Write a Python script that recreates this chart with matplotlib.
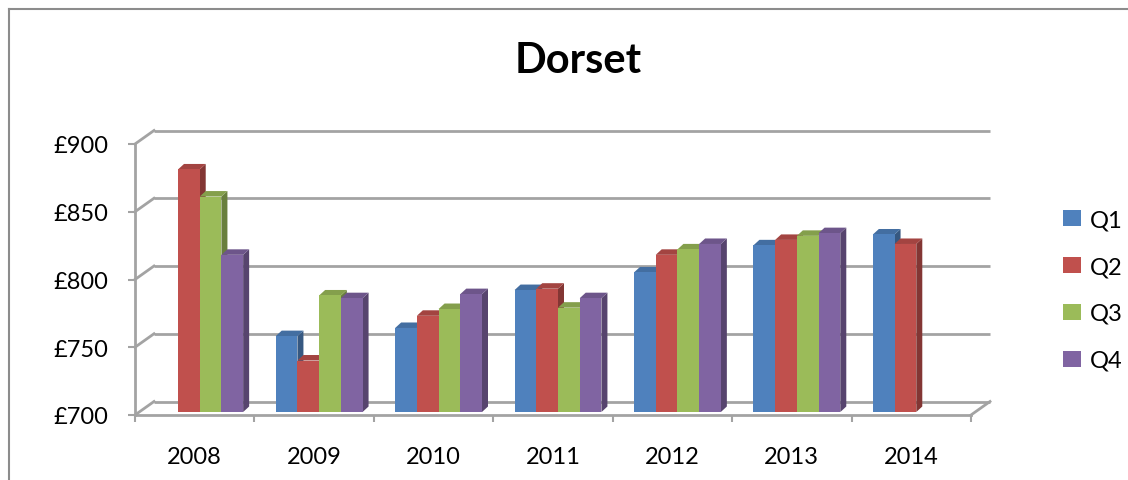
import numpy as np
import matplotlib
matplotlib.use("Agg")
import matplotlib.pyplot as plt
from matplotlib.patches import Polygon, Patch
import matplotlib.colors as mcolors

# --- Données ---
years = ["2008", "2009", "2010", "2011", "2012", "2013", "2014"]
q1 = [np.nan, 756, 762, 790, 803, 823, 831]
q2 = [879, 738, 771, 791, 816, 827, 824]
q3 = [859, 786, 776, 777, 820, 830, np.nan]
q4 = [816, 784, 787, 784, 824, 832, np.nan]
series = ["Q1", "Q2", "Q3", "Q4"]
colors = ["#4F81BD", "#C0504D", "#9BBB59", "#8064A2"]
yticks = [700, 750, 800, 850, 900]

plt.rcParams["font.family"] = ["Lato", "DejaVu Sans"]

W, H = 1128, 481
fig = plt.figure(figsize=(W / 100, H / 100), dpi=100)

# plan avant de l'axe (pixels) -> coordonnées figure
left_px, right_px, y700_px, y900_px = 135, 971, 416, 145
ax = fig.add_axes([left_px / W, 1 - y700_px / H,
                   (right_px - left_px) / W, (y700_px - y900_px) / H])
n = len(years)
ax.set_xlim(-0.5, n - 0.5)
ax.set_ylim(700, 900)

# pixels -> unités de données
sx = (right_px - left_px) / n
sy = (y700_px - y900_px) / 200.0
def off(px, py):
    return px / sx, py / sy

grid_col = "#a3a3a3"
wall_dx, wall_dy = off(19, 13.5)

# grille du mur du fond + diagonales du mur gauche
for v in yticks:
    ax.plot([-0.5 + wall_dx, n - 0.5 + wall_dx], [v + wall_dy, v + wall_dy],
            color=grid_col, lw=2, zorder=1, clip_on=False, solid_capstyle="butt")
    ax.plot([-0.5, -0.5 + wall_dx], [v, v + wall_dy],
            color=grid_col, lw=2, zorder=1, clip_on=False)
# plancher côté droit
ax.plot([n - 0.5, n - 0.5 + wall_dx], [700, 700 + wall_dy],
        color=grid_col, lw=2, zorder=1, clip_on=False)

# barres pseudo-3D
bw = 1 / 5.5
fdx, fdy = off(5, 3)
ddx, ddy = off(6, 5.5)

def shade(c, f):
    r, g, b = mcolors.to_rgb(c)
    return (r * f, g * f, b * f)

data = [q1, q2, q3, q4]
for i in range(n):
    for k in range(4):
        v = data[k][i]
        if np.isnan(v):
            continue
        x0 = i - 2 * bw + k * bw + fdx
        x1 = x0 + bw
        y0 = 700 + fdy
        y1 = v + fdy
        c = colors[k]
        front = Polygon([(x0, y0), (x1, y0), (x1, y1), (x0, y1)], closed=True,
                        fc=c, ec="none", zorder=3, clip_on=False)
        side = Polygon([(x1, y0), (x1 + ddx, y0 + ddy), (x1 + ddx, y1 + ddy), (x1, y1)],
                       closed=True, fc=shade(c, 0.68), ec="none", zorder=3, clip_on=False)
        top = Polygon([(x0, y1), (x1, y1), (x1 + ddx, y1 + ddy), (x0 + ddx, y1 + ddy)],
                      closed=True, fc=shade(c, 0.85), ec="none", zorder=3, clip_on=False)
        ax.add_patch(side)
        ax.add_patch(top)
        ax.add_patch(front)

# axes avant
for s in ["top", "right"]:
    ax.spines[s].set_visible(False)
for s in ["left", "bottom"]:
    ax.spines[s].set_color(grid_col)
    ax.spines[s].set_linewidth(2)
    ax.spines[s].set_zorder(2)

ax.set_yticks(yticks)
ax.set_yticklabels([f"£{v}" for v in yticks])
ax.tick_params(axis="y", length=5, width=1.5, color=grid_col, pad=14, labelsize=17)
ax.set_xticks(range(n))
ax.set_xticklabels(years)
ax.tick_params(axis="x", which="major", length=0, pad=22, labelsize=17)
ax.set_xticks(np.arange(-0.5, n, 1.0), minor=True)
ax.tick_params(axis="x", which="minor", length=5, width=1.5, color=grid_col)
ax.set_facecolor("none")

# titre
fig.text(578 / W, 1 - 61 / H, "Dorset", ha="center", va="center",
         fontsize=30, fontweight="bold")

# légende
handles = [Patch(facecolor=c, edgecolor="none") for c in colors]
fig.legend(handles, series, loc="center left",
           bbox_to_anchor=(1063 / W, 1 - 291 / H), frameon=False,
           fontsize=17, handlelength=0.75, handleheight=0.65,
           handletextpad=0.4, labelspacing=1.1, borderpad=0, borderaxespad=0)

# cadre extérieur
fig.add_artist(plt.Line2D([9 / W, 9 / W], [0, 1 - 10 / H], transform=fig.transFigure,
                          color="#8c8c8c", lw=1.5))
fig.add_artist(plt.Line2D([9 / W, 1], [1 - 10 / H, 1 - 10 / H], transform=fig.transFigure,
                          color="#8c8c8c", lw=1.5))

fig.savefig("out.png", dpi=100)
